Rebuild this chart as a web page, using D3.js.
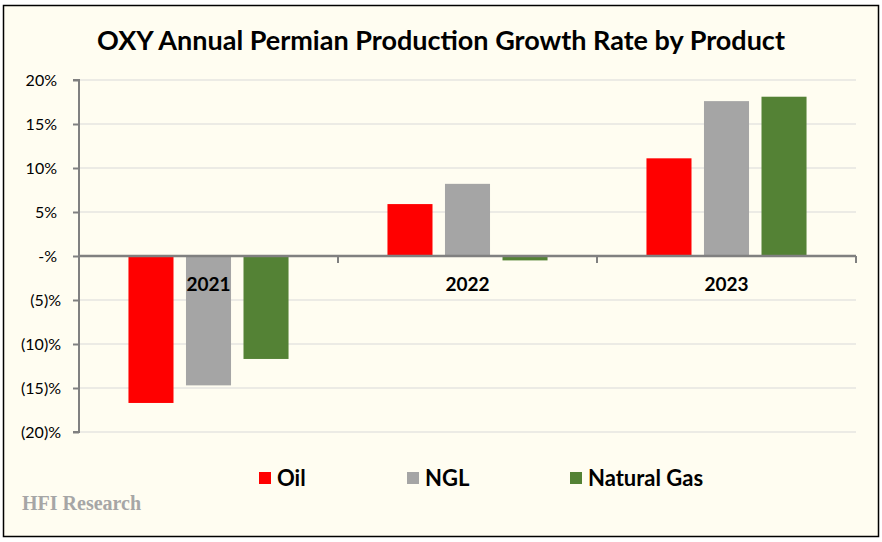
<!DOCTYPE html>
<html>
<head>
<meta charset="utf-8">
<script src="https://cdn.jsdelivr.net/npm/d3@7"></script>
<style>
  body { margin: 0; background: #fff; }
  text { font-family: Lato, "Open Sans", sans-serif; }
</style>
</head>
<body>
<svg id="chart"></svg>
<script>
var w = 882;
var h = 542;

// data
var years = ["2021", "2022", "2023"];
var products = ["Oil", "NGL", "Natural Gas"];
var oil = [-16.7, 5.9, 11.1];
var ngl = [-14.7, 8.2, 17.6];
var gas = [-11.7, -0.5, 18.1];
var yTicks = [20, 15, 10, 5, 0, -5, -10, -15, -20];
var colors = ["#ff0000", "#a5a5a5", "#548235"];

var series = [oil, ngl, gas];
var rows = [];
years.forEach(function (yr, i) {
  products.forEach(function (p, j) {
    rows.push({ year: yr, product: p, value: series[j][i] });
  });
});

var svg = d3.select("#chart")
    .attr("width", w)
    .attr("height", h);

svg.append("rect")
    .attr("x", 3.5).attr("y", 5.5)
    .attr("width", 875).attr("height", 531)
    .style("fill", "#fffdf1")
    .style("stroke", "#000")
    .style("stroke-width", 1.5);

var x0 = d3.scaleBand().domain(years).range([79, 856]);
var x1 = d3.scaleBand().domain(products)
    .range([0, x0.bandwidth()])
    .paddingInner(0.217)
    .paddingOuter(0.86);
var y = d3.scaleLinear().domain([-20, 20]).range([432, 80]);

function fmt(v) {
  if (v === 0) return "-%";
  if (v < 0) return "(" + Math.abs(v) + ")%";
  return v + "%";
}

// gridlines
svg.append("g")
  .selectAll("line")
  .data(yTicks.filter(function (d) { return d !== 0; }))
  .enter().append("line")
    .attr("x1", 79).attr("x2", 856)
    .attr("y1", function (d) { return y(d); })
    .attr("y2", function (d) { return y(d); })
    .style("stroke", "#d9d9d9")
    .style("stroke-width", 1);

// bars
svg.append("g")
  .selectAll("rect")
  .data(rows)
  .enter().append("rect")
    .attr("x", function (d) { return x0(d.year) + x1(d.product); })
    .attr("width", x1.bandwidth())
    .attr("y", function (d) { return y(Math.max(0, d.value)); })
    .attr("height", function (d) { return Math.abs(y(d.value) - y(0)); })
    .style("fill", function (d) { return colors[products.indexOf(d.product)]; });

// y axis
var yAxis = d3.axisLeft(y).tickValues(yTicks).tickFormat(fmt).tickSize(6).tickPadding(12);
var ya = svg.append("g").attr("transform", "translate(79,0)").call(yAxis);
ya.select(".domain").attr("d", "M-6," + y(20) + "H0V" + y(-20) + "H-6")
    .style("stroke", "#808080").style("stroke-width", 2);
ya.selectAll(".tick line").style("stroke", "#808080").style("stroke-width", 2);
ya.selectAll(".tick text")
    .attr("dx", function (d) { return d < 0 ? 0 : -4; })
    .style("font-size", "16px")
    .style("fill", "#000")
    .style("font-family", "Lato, sans-serif");

// zero line with category ticks
var xAxis = d3.axisBottom(x0).tickSize(0).tickFormat("");
var xa = svg.append("g").attr("transform", "translate(0," + y(0) + ")").call(xAxis);
xa.select(".domain").remove();
xa.append("line").attr("x1", 79).attr("x2", 856)
    .style("stroke", "#808080").style("stroke-width", 2.5);
xa.selectAll(".sep")
  .data(years)
  .enter().append("line")
    .attr("class", "sep")
    .attr("x1", function (d) { return x0(d) + x0.bandwidth(); })
    .attr("x2", function (d) { return x0(d) + x0.bandwidth(); })
    .attr("y1", 0).attr("y2", 7)
    .style("stroke", "#808080").style("stroke-width", 2);

// category labels
svg.append("g")
  .selectAll("text")
  .data(years)
  .enter().append("text")
    .attr("x", function (d) { return x0(d) + x0.bandwidth() / 2; })
    .attr("y", 291)
    .attr("text-anchor", "middle")
    .style("font-size", "19px")
    .style("font-weight", "bold")
    .text(function (d) { return d; });

// title
svg.append("text")
    .attr("x", 441).attr("y", 50)
    .attr("text-anchor", "middle")
    .style("font-size", "27px")
    .style("font-weight", "bold")
    .text("OXY Annual Permian Production Growth Rate by Product");

// legend
var legendX = [259, 407, 570];
var lg = svg.append("g")
  .selectAll("g")
  .data(products)
  .enter().append("g")
    .attr("transform", function (d, i) { return "translate(" + legendX[i] + ",472)"; });
lg.append("rect")
    .attr("width", 12).attr("height", 12)
    .style("fill", function (d, i) { return colors[i]; });
lg.append("text")
    .attr("x", 18).attr("y", 14)
    .style("font-size", "22px")
    .style("font-weight", "bold")
    .text(function (d) { return d; });

// watermark
svg.append("text")
    .attr("x", 22).attr("y", 510)
    .style("font-family", "'Liberation Serif', serif")
    .style("font-size", "20px")
    .style("font-weight", "bold")
    .style("fill", "#a6a6a6")
    .text("HFI Research");
</script>
</body>
</html>
